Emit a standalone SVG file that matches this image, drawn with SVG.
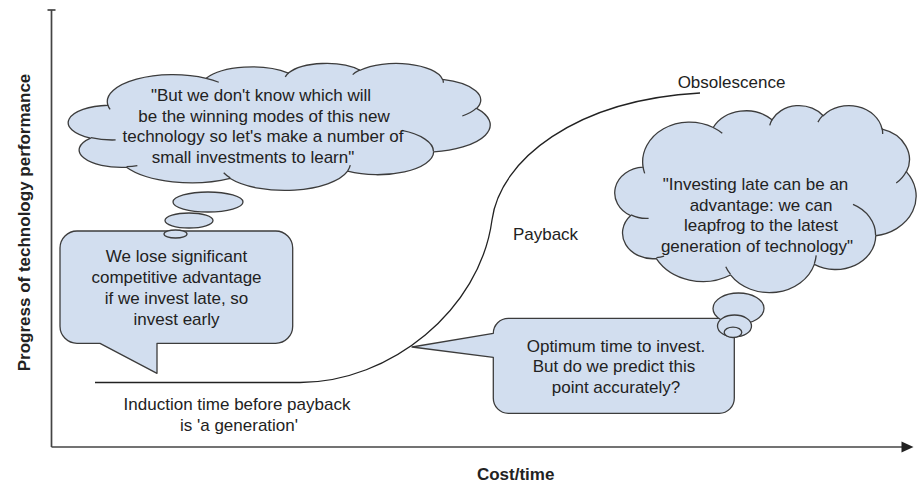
<svg xmlns="http://www.w3.org/2000/svg" xmlns:xlink="http://www.w3.org/1999/xlink" width="918" height="484" viewBox="0 0 918 484">
<style>
  .shape { fill: #d2deef; stroke: #3c3c3c; stroke-width: 1.3; stroke-linejoin: round; }
  .inner { fill: none; stroke: #3c3c3c; stroke-width: 1.3; }
  .ns { vector-effect: non-scaling-stroke; }
  .t { font-family: "Liberation Sans", Arial, sans-serif; font-size: 17px; fill: #222; text-anchor: middle; }
  .b { font-weight: bold; }
  .axis { stroke: #444; stroke-width: 1.7; fill: none; }
  .curve { stroke: #222; stroke-width: 1.3; fill: none; }
</style>
<defs>
  <path id="cloudShape" class="shape ns" d="M 3900 14370 A 6753 9190 0 0 1 14005 5202 A 5333 7267 0 0 1 22458 3432 A 4365 5945 0 0 1 29835 2479 A 4857 6595 0 0 1 38320 5574 A 5333 7273 0 0 1 41820 15458 A 6775 9220 0 0 1 37406 30201 A 5785 7867 0 0 1 28557 36811 A 6752 9215 0 0 1 16482 39264 A 7720 10543 0 0 1 5808 35474 A 4360 5918 0 0 1 2117 25551 A 4345 5945 0 0 1 3900 14370 Z"/>
  <path id="cloudLines" class="inner ns" d="M 4693 26177 A 4345 5945 0 0 1 2159 25380 M 6928 34899 A 4360 5918 0 0 1 5820 35280 M 16478 39090 A 6752 9215 0 0 1 15809 37346 M 28827 34751 A 6752 9215 0 0 1 28560 36660 M 34129 22954 A 5785 7867 0 0 1 37381 30090 M 41798 15354 A 5333 7273 0 0 1 40349 18031 M 38324 5426 A 4857 6595 0 0 1 38400 6690 M 29078 3952 A 4857 6595 0 0 1 29820 2339 M 22141 4720 A 4365 5945 0 0 1 22500 3331 M 14000 5192 A 6753 9190 0 0 1 15302 6543 M 4127 15789 A 6753 9190 0 0 1 3900 14372"/>
</defs>

<g id="axes">
  <line class="axis" x1="51.5" y1="10" x2="51.5" y2="447"/>
  <line class="axis" x1="47.5" y1="10" x2="55.5" y2="10"/>
  <line class="axis" x1="51.5" y1="447" x2="903" y2="447"/>
  <polygon points="901.5,441.5 913.5,447 901.5,452.5" fill="#222"/>
  <text class="t b" x="515.7" y="480">Cost/time</text>
  <text class="t b" transform="translate(29.5,222.5) rotate(-90)">Progress of technology performance</text>
</g>

<g id="connectors">
  <path id="s-curve" class="curve" d="M 95 382.5 L 300 382.5 C 390 382.5 480 310 492 220 C 500 160 575 100 700 93"/>
</g>

<g id="labels">
  <text class="t" x="731.5" y="88">Obsolescence</text>
  <text class="t" x="545.5" y="240">Payback</text>
  <text class="t" x="237" y="410">Induction time before payback</text>
  <text class="t" x="239" y="431">is 'a generation'</text>
</g>

<g id="bubble-early">
  <path class="shape" d="M 77 231 H 275.7 A 17 17 0 0 1 292.7 248 V 326.3 A 17 17 0 0 1 275.7 343.3 H 157 V 373.3 L 100 343.3 H 77 A 17 17 0 0 1 60 326.3 V 248 A 17 17 0 0 1 77 231 Z"/>
  <text class="t" x="176.5" y="261.5">We lose significant</text>
  <text class="t" x="176.5" y="282.5">competitive advantage</text>
  <text class="t" x="176.5" y="303.5">if we invest late, so</text>
  <text class="t" x="176.5" y="324.5">invest early</text>
</g>

<g id="bubble-optimum">
  <path class="shape" d="M 508.3 318.3 H 719.3 A 15 15 0 0 1 734.3 333.3 V 398.3 A 15 15 0 0 1 719.3 413.3 H 508.3 A 15 15 0 0 1 493.3 398.3 V 357.3 L 412 347 L 493.3 333.3 A 15 15 0 0 1 508.3 318.3 Z"/>
  <text class="t" x="616" y="351.7">Optimum time to invest.</text>
  <text class="t" x="614" y="372.3">But do we predict this</text>
  <text class="t" x="616" y="392.7">point accurately?</text>
</g>

<g id="cloud-learn">
  <g transform="translate(70,63) scale(0.0097222,0.0029398)">
    <use xlink:href="#cloudShape" href="#cloudShape"/>
    <use xlink:href="#cloudLines" href="#cloudLines"/>
  </g>
  <ellipse class="shape" cx="208" cy="202" rx="35" ry="10"/>
  <ellipse class="shape" cx="189" cy="220.5" rx="24" ry="7.5"/>
  <ellipse class="shape" cx="175.5" cy="234" rx="11.5" ry="4"/>
  <text class="t" x="261" y="101">"But we don't know which will</text>
  <text class="t" x="264" y="121.7">be the winning modes of this new</text>
  <text class="t" x="263" y="142.3">technology so let's make a number of</text>
  <text class="t" x="253" y="162.5">small investments to learn"</text>
</g>

<g id="cloud-late">
  <g transform="translate(616,105) scale(0.0069444,0.0043287)">
    <use xlink:href="#cloudShape" href="#cloudShape"/>
    <use xlink:href="#cloudLines" href="#cloudLines"/>
  </g>
  <ellipse class="shape" cx="738.5" cy="308.5" rx="25.5" ry="15.5"/>
  <ellipse class="shape" cx="734.5" cy="326" rx="17" ry="11"/>
  <ellipse class="shape" cx="733" cy="332.3" rx="8.8" ry="5.2"/>
  <text class="t" x="755.5" y="190">"Investing late can be an</text>
  <text class="t" x="761" y="210.5">advantage: we can</text>
  <text class="t" x="761" y="231">leapfrog to the latest</text>
  <text class="t" x="757" y="251.5">generation of technology"</text>
</g>
</svg>
